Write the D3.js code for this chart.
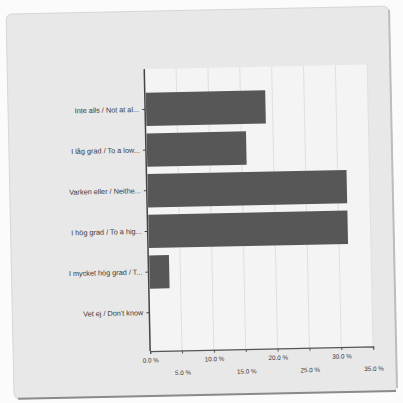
<!DOCTYPE html>
<html><head><meta charset="utf-8">
<script src="https://cdn.jsdelivr.net/npm/d3@7"></script>
<style>body{margin:0;background:#fbfbfb;}svg{display:block;}</style>
</head><body>
<script>
const categories = ["Inte alls / Not at al...", "I låg grad / To a low...", "Varken eller / Neithe...", "I hög grad / To a hig...", "I mycket hög grad / T...", "Vet ej / Don't know"];
const values = [18.75, 15.6, 31.25, 31.25, 3.1, 0];
const tickValues = [0, 5, 10, 15, 20, 25, 30, 35];
const tickLabels = ["0.0 %", "5.0 %", "10.0 %", "15.0 %", "20.0 %", "25.0 %", "30.0 %", "35.0 %"];

const W = 403, H = 403;
const svg = d3.select("body").append("svg").attr("width", W).attr("height", H);
const g0 = svg.append("g").attr("transform", "rotate(-1.2 200 200)");

// panel
g0.append("rect").attr("x", 10).attr("y", 10).attr("width", 383).attr("height", 385)
  .attr("rx", 6).attr("fill", "#e8e8e8").attr("stroke", "#d6d6d6");
g0.append("line").attr("x1", 14).attr("x2", 392).attr("y1", 395).attr("y2", 395)
  .attr("stroke", "#8a8a8a").attr("stroke-width", 2);
g0.append("line").attr("x1", 393).attr("x2", 393).attr("y1", 14).attr("y2", 392)
  .attr("stroke", "#bdbdbd").attr("stroke-width", 2);

const x0 = 147, x1 = 370, yTop = 68, yBot = 350;
const x = d3.scaleLinear().domain([0, 35]).range([x0, x1]);
const y = d3.scaleBand().domain(categories).range([88, 332]).paddingInner(0.18).paddingOuter(0.09);

// plot background
g0.append("rect").attr("x", x0).attr("y", yTop).attr("width", x1 - x0).attr("height", yBot - yTop)
  .attr("fill", "#f4f4f4");

// grid
g0.append("g").selectAll("line").data(tickValues.slice(1)).join("line")
  .attr("x1", d => x(d)).attr("x2", d => x(d)).attr("y1", yTop).attr("y2", yBot)
  .attr("stroke", "#e0e0e0").attr("stroke-width", 1);

// bars
g0.append("g").selectAll("rect").data(values).join("rect")
  .attr("x", x(0) + 1).attr("y", (d, i) => y(categories[i]))
  .attr("width", d => x(d) - x(0)).attr("height", y.bandwidth())
  .attr("fill", "#575757");

// y axis
const yAxis = g0.append("g").attr("transform", `translate(${x0},0)`)
  .call(d3.axisLeft(y).tickSize(3).tickPadding(3));
yAxis.select(".domain").remove();
g0.append("line").attr("x1", x0).attr("x2", x0).attr("y1", yTop).attr("y2", yBot)
  .attr("stroke", "#444").attr("stroke-width", 1.5);
yAxis.selectAll("text").attr("font-family", "Liberation Sans, Arial, sans-serif")
  .attr("font-size", 7.3).attr("fill", "#3a3a3a");
yAxis.selectAll(".tick line").attr("stroke", "#444");

// x axis
const xAxis = g0.append("g").attr("transform", `translate(0,${yBot})`)
  .call(d3.axisBottom(x).tickValues(tickValues).tickSize(3)
    .tickFormat((d, i) => tickLabels[i]));
xAxis.select(".domain").attr("stroke", "#555").attr("stroke-width", 1.2);
xAxis.selectAll(".tick line").attr("stroke", "#555");
xAxis.selectAll("text").attr("font-family", "Liberation Sans, Arial, sans-serif")
  .attr("font-size", 6.3).attr("fill", "#3a3a3a")
  .attr("y", (d, i) => i % 2 === 0 ? 7 : 20);
</script>
</body></html>
